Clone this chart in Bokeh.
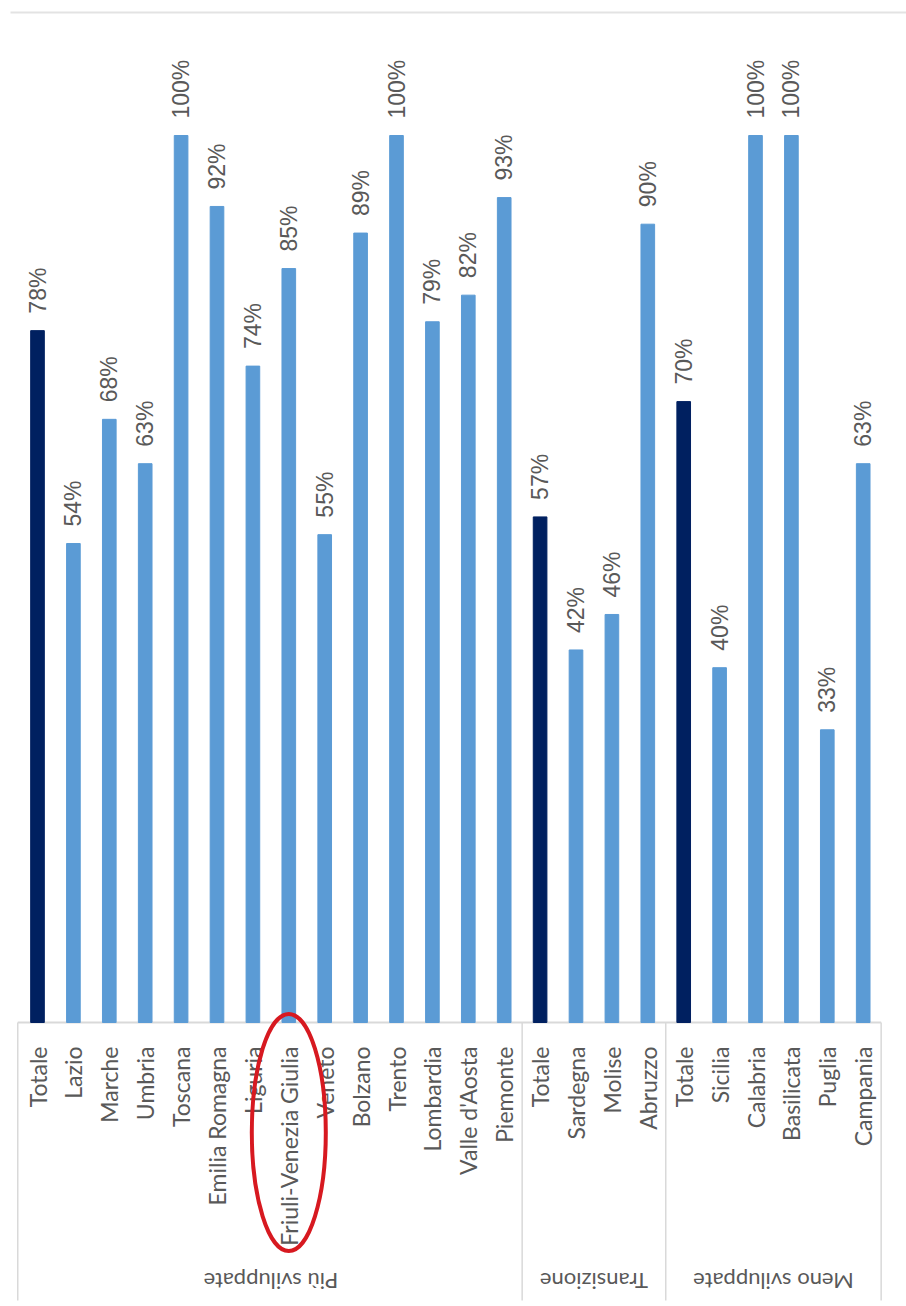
import math
from bokeh.plotting import figure
from bokeh.models import Range1d, ColumnDataSource
from bokeh.core.properties import value
from bokeh.embed import file_html
from bokeh.resources import INLINE

# ---- data ----
groups = ["Più sviluppate", "Transizione", "Meno sviluppate"]
regions_piu = ["Totale", "Lazio", "Marche", "Umbria", "Toscana", "Emilia Romagna",
               "Liguria", "Friuli-Venezia Giulia", "Veneto", "Bolzano", "Trento",
               "Lombardia", "Valle d'Aosta", "Piemonte"]
values_piu = [78, 54, 68, 63, 100, 92, 74, 85, 55, 89, 100, 79, 82, 93]
regions_trans = ["Totale", "Sardegna", "Molise", "Abruzzo"]
values_trans = [57, 42, 46, 90]
regions_meno = ["Totale", "Sicilia", "Calabria", "Basilicata", "Puglia", "Campania"]
values_meno = [70, 40, 100, 100, 33, 63]
highlighted = "Friuli-Venezia Giulia"

# ---- build table ----
labels, vals, grp = [], [], []
for g, regs, vs in [(groups[0], regions_piu, values_piu),
                    (groups[1], regions_trans, values_trans),
                    (groups[2], regions_meno, values_meno)]:
    labels += regs
    vals += vs
    grp += [g] * len(regs)
idx = list(range(len(labels)))
DARK = "#002060"
LIGHT = "#5b9bd5"
colors = [DARK if l == "Totale" else LIGHT for l in labels]
pct = [f"{v}%" for v in vals]

W, H = 906, 1306
px_per_cat = 35.9
x0_px = 37.0
base_px = 1022.0
px_per_unit = 8.87

xs = Range1d(-x0_px / px_per_cat, (W - x0_px) / px_per_cat)
ys = Range1d(-(H - base_px) / px_per_unit, base_px / px_per_unit)

p = figure(width=W, height=H, x_range=xs, y_range=ys, output_backend="svg",
           toolbar_location=None, x_axis_type=None, y_axis_type=None,
           min_border=0, outline_line_color=None)
p.xgrid.visible = False
p.ygrid.visible = False
p.background_fill_color = "white"
p.border_fill_color = "white"

def py(pixels_below_base):
    return -pixels_below_base / px_per_unit

src = ColumnDataSource(dict(x=idx, top=vals, color=colors, label=labels, pct=pct,
                            ylab=[v + 17 / px_per_unit for v in vals]))

# top border line
p.segment(x0=[(10 - x0_px) / px_per_cat], y0=[(base_px - 12) / px_per_unit],
          x1=[xs.end], y1=[(base_px - 12) / px_per_unit],
          line_color="#e3e3e3", line_width=2)

# axis frame lines
first = -0.55
last = len(labels) - 0.5
p.segment(x0=[first], y0=[0], x1=[last], y1=[0], line_color="#d9d9d9", line_width=2)
n1 = len(regions_piu)
n2 = n1 + len(regions_trans)
seps = [first, n1 - 0.5, n2 - 0.5, last]
p.segment(x0=seps, y0=[0] * 4, x1=seps, y1=[py(278)] * 4, line_color="#d9d9d9", line_width=1.5)

# bars
p.vbar(x="x", top="top", bottom=0, width=0.38, color="color", source=src)

# value labels
p.text(x="x", y="ylab", text="pct", angle=math.pi / 2, text_align="left",
       text_baseline="middle", text_font=value("Liberation Sans"),
       text_font_size="23px", text_color="#595959", source=src)

# category labels
p.text(x="x", y=py(24), text="label", angle=math.pi / 2, text_align="right",
       text_baseline="middle", text_font=value("Lato"),
       text_font_size="23px", text_color="#595959", source=src)

# group labels (upside down)
gcenters = [(n1 - 1) / 2, (n1 + n2 - 1) / 2, (n2 + len(labels) - 1) / 2]
p.text(x=gcenters, y=[py(259)] * 3, text=groups, angle=math.pi, text_align="center",
       text_baseline="middle", text_font=value("Lato"),
       text_font_size="22px", text_color="#595959")

# red highlight ellipse
hi = labels.index(highlighted)
p.ellipse(x=[hi], y=[py(110)], width=74 / px_per_cat, height=237 / px_per_unit,
          fill_color=None, line_color="#d71920", line_width=4)

open("out.html", "w").write(file_html(p, INLINE))
